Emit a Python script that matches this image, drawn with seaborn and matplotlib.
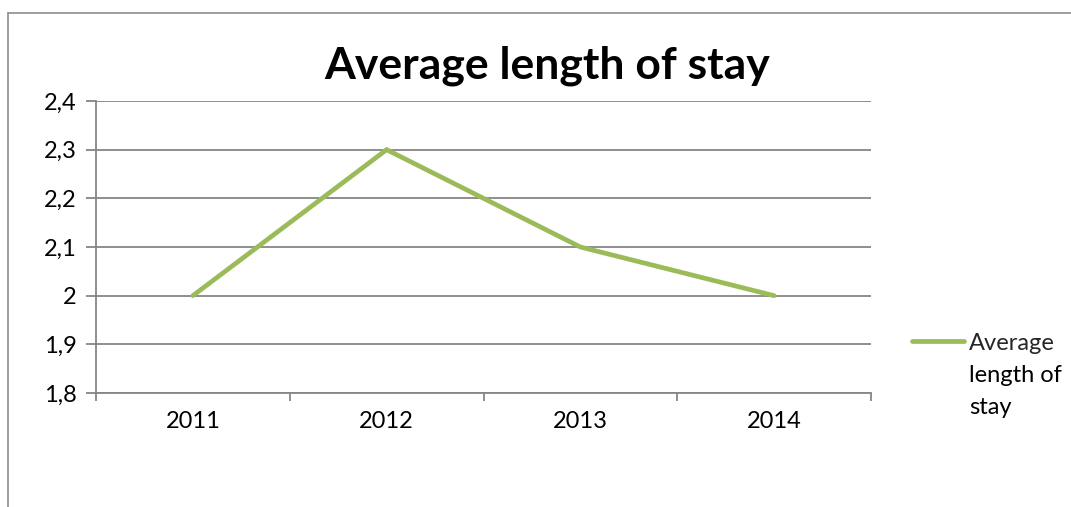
import matplotlib
matplotlib.use("Agg")
import matplotlib.pyplot as plt
import seaborn as sns
import pandas as pd
from matplotlib.lines import Line2D
from matplotlib.ticker import FixedLocator, FuncFormatter

years = ["2011", "2012", "2013", "2014"]
values = [2.0, 2.3, 2.1, 2.0]
y_ticks = [1.8, 1.9, 2.0, 2.1, 2.2, 2.3, 2.4]
series_name = "Average length of stay"
legend_lines = ["Average", "length of", "stay"]
title = "Average length of stay"

df = pd.DataFrame({"year": years, "value": values})

sns.set_theme(style="white")
plt.rcParams["font.family"] = ["Lato", "DejaVu Sans"]

W, H = 1071, 507
fig = plt.figure(figsize=(W / 100, H / 100), dpi=100)
ax = fig.add_axes([96/W, 114/H, 775/W, 292/H])

green = "#9BBB59"
grid_c = "#868686"
fs = 17

sns.lineplot(data=df, x="year", y="value", ax=ax, color=green, linewidth=3.4,
             solid_capstyle="round", solid_joinstyle="miter", sort=False)

ax.set_xlim(-0.5, len(years) - 0.5)
ax.set_ylim(y_ticks[0], y_ticks[-1])
ax.set_yticks(y_ticks)
ax.yaxis.set_major_formatter(FuncFormatter(lambda v, p: f"{v:g}".replace(".", ",")))
ax.set_xticks(range(len(years)))
ax.set_xticklabels(years)
ax.xaxis.set_minor_locator(FixedLocator([i - 0.5 for i in range(len(years) + 1)]))
ax.tick_params(axis="x", which="major", length=0, pad=13, labelsize=fs, labelcolor="black")
ax.tick_params(axis="x", which="minor", length=6, width=1.3, color=grid_c, direction="out", bottom=True)
ax.tick_params(axis="y", which="major", length=7, width=1.3, color=grid_c, direction="out",
               left=True, pad=7, labelsize=fs, labelcolor="black")
ax.set_xlabel("")
ax.set_ylabel("")

ax.grid(axis="y", color=grid_c, linewidth=1.3)
ax.grid(axis="x", visible=False)
for s in ["top", "right"]:
    ax.spines[s].set_visible(False)
for s in ["left", "bottom"]:
    ax.spines[s].set_color(grid_c)
    ax.spines[s].set_linewidth(1.3)
ax.set_axisbelow(True)

# legend: handle + first line via matplotlib legend, continuation lines below
handle = Line2D([], [], color=green, linewidth=3.4, solid_capstyle="round")
leg = ax.legend([handle], [legend_lines[0]], loc="center left",
                bbox_to_anchor=(912/W, 1 - 343/H), bbox_transform=fig.transFigure,
                frameon=False, fontsize=fs, handlelength=2.2, handletextpad=0.2,
                borderpad=0, borderaxespad=0)
for i, line in enumerate(legend_lines[1:], start=1):
    fig.text(969/W, 1 - (343 + 32 * i)/H, line, ha="left", va="center",
             fontsize=fs, color="black")

fig.text(547/W, 1 - 66/H, title, ha="center", va="center", fontsize=32,
         fontweight="bold", color="black")

# outer chart border (partially visible)
fig.add_artist(Line2D([8/W, 8/W], [0, 1 - 13/H], transform=fig.transFigure,
                      color="#8c8c8c", linewidth=1.2))
fig.add_artist(Line2D([8/W, 1], [1 - 13/H, 1 - 13/H], transform=fig.transFigure,
                      color="#8c8c8c", linewidth=1.2))

fig.savefig("out.png", dpi=100)
